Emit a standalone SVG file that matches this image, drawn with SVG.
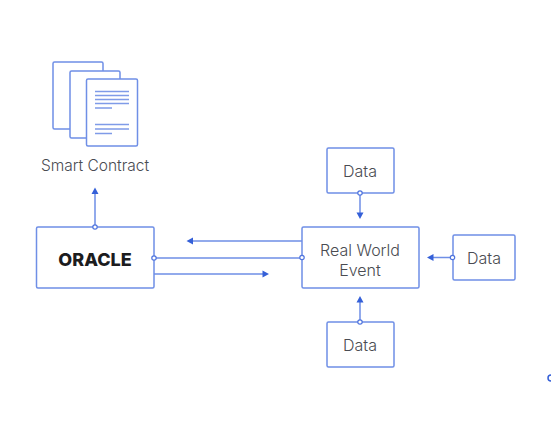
<svg xmlns="http://www.w3.org/2000/svg" width="551" height="431" viewBox="0 0 551 431">
<style>
.b{fill:#fff;stroke:#6f8fe6;stroke-width:1.500}
.l{fill:none;stroke:#6f8fe6;stroke-width:1.500}
.t{fill:none;stroke:#7f9be8;stroke-width:1.400}
.d{fill:#fff;stroke:#4f74de;stroke-width:1.200}
.a{fill:#3560d8}
text{font-family:"Inter","Open Sans",sans-serif;font-weight:300;fill:#4a4c52;font-size:16px;text-anchor:middle}
</style>
<rect width="551" height="431" fill="#fff"/>
<g id="contract">
<rect class="b" x="53" y="62" width="50" height="67" rx="1.500"/>
<rect class="b" x="70" y="71" width="50" height="67" rx="1.500"/>
<rect class="b" x="86.500" y="79" width="51" height="67" rx="1.500"/>
<path class="t" d="M95 91.500H129M95 95.500H129M95 99.500H129M95 103.500H129M95 108H112M95 124.500H129M95 129H129M95 133.500H112"/>
<text x="95" y="171" style="font-size:15.500px">Smart Contract</text>
</g>
<g id="connectors">
<path class="l" d="M95 227V193M154 258H302M192 241H302M154 274H263M360 193V213M360 322V302M453 257.500H432"/>
<path class="a" d="M95 187.500L98.500 194H91.500ZM186.500 241L193 237.500V244.500ZM269 274L262.500 270.500V277.500ZM360 219L356.500 212.500H363.500ZM360 296L356.500 302.500H363.500ZM427 257.500L433.500 254V261Z"/>
</g>
<g id="oracle">
<rect class="b" x="36.500" y="227" width="117.500" height="61" rx="1.500"/>
<text x="95" y="265.500" style="font-size:18px;font-weight:800;fill:#1c1c1e">ORACLE</text>
</g>
<g id="event">
<rect class="b" x="302" y="227" width="117" height="61" rx="1.500"/>
<text x="360" y="256">Real World</text>
<text x="360" y="276">Event</text>
</g>
<g id="data-top">
<rect class="b" x="327" y="148" width="67" height="45" rx="1.500"/>
<text x="360" y="176.500">Data</text>
</g>
<g id="data-right">
<rect class="b" x="453" y="235" width="62" height="45" rx="1.500"/>
<text x="484" y="263.500">Data</text>
</g>
<g id="data-bottom">
<rect class="b" x="327" y="322" width="67" height="45" rx="1.500"/>
<text x="360" y="350.500">Data</text>
</g>
<g id="dots">
<circle class="d" cx="95" cy="227" r="2.200"/>
<circle class="d" cx="154" cy="258" r="2.200"/>
<circle class="d" cx="302" cy="257.500" r="2.200"/>
<circle class="d" cx="360" cy="193" r="2.200"/>
<circle class="d" cx="360" cy="322" r="2.200"/>
<circle class="d" cx="452.500" cy="257.500" r="2.200"/>
<circle cx="551" cy="378" r="3" fill="none" stroke="#3560d8" stroke-width="1.500"/>
</g>
</svg>
